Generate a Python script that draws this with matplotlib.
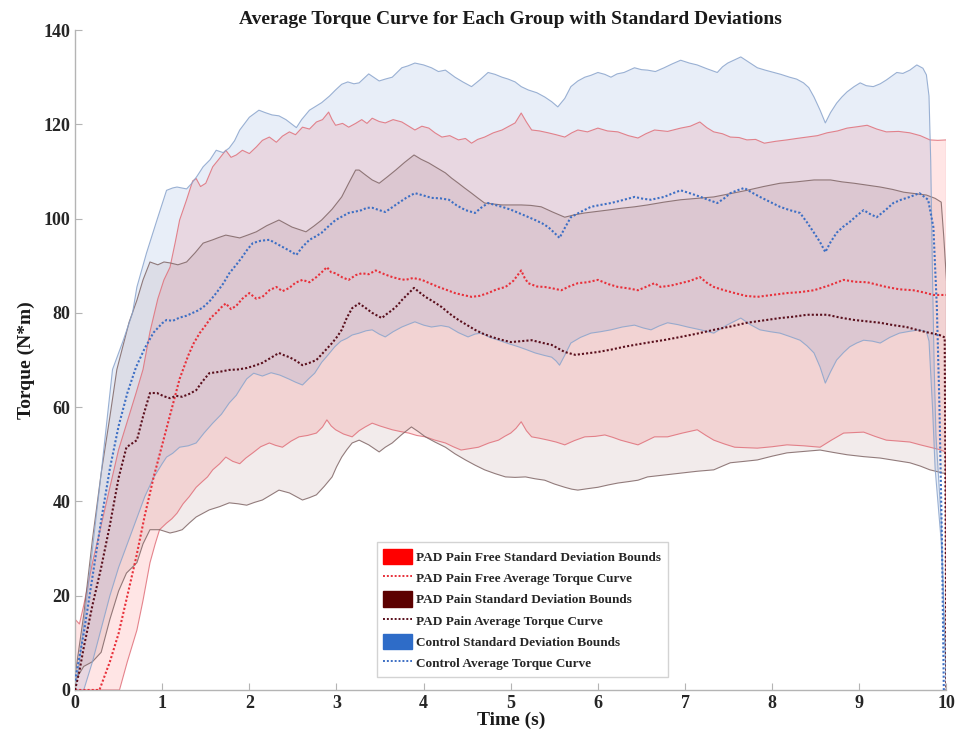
import matplotlib
matplotlib.use("Agg")
import matplotlib.pyplot as plt
import numpy as np
from matplotlib.patches import Patch
from matplotlib.lines import Line2D

plt.rcParams["font.family"] = ["Liberation Serif", "DejaVu Serif"]
plt.rcParams["font.weight"] = "bold"

# (time s, torque N*m) samples for each curve
free_upper = [(0, 15), (0.05, 14), (0.1, 18), (0.2, 27), (0.3, 35), (0.4, 43), (0.5, 51), (0.6, 57), (0.7, 63),
              (0.78, 68), (0.86, 76), (0.95, 83), (1.02, 87), (1.09, 89.7), (1.15, 95), (1.2, 99.7), (1.28, 104),
              (1.35, 108), (1.39, 108.5), (1.44, 106.8), (1.5, 107.5), (1.58, 111), (1.65, 112.6), (1.73, 114.5),
              (1.79, 113), (1.85, 113.5), (1.92, 114.5), (2.0, 113.8), (2.08, 115.2), (2.15, 116.6), (2.23, 117.3),
              (2.31, 116.2), (2.38, 117.5), (2.46, 118.4), (2.53, 117.8), (2.61, 119.4), (2.69, 119), (2.77, 120.5),
              (2.84, 121), (2.91, 122.6), (2.95, 121), (2.99, 119.8), (3.07, 120.2), (3.14, 119.4), (3.22, 120.2),
              (3.29, 121), (3.35, 120.2), (3.41, 121.3), (3.49, 120.6), (3.56, 120.3), (3.65, 121), (3.75, 120.5),
              (3.83, 119.6), (3.9, 118.8), (3.98, 119.6), (4.06, 119.2), (4.13, 118.2), (4.21, 117.3), (4.3, 117.6),
              (4.4, 116.7), (4.48, 117), (4.55, 116), (4.62, 116.8), (4.7, 117.3), (4.8, 118.2), (4.9, 118.8),
              (4.98, 119.6), (5.05, 120.3), (5.12, 122.4), (5.18, 120.5), (5.24, 118.8), (5.33, 118.6), (5.43, 118.2),
              (5.52, 117.8), (5.62, 117.3), (5.7, 118.2), (5.77, 118.8), (5.88, 118.4), (6.0, 119.2), (6.11, 118.6),
              (6.23, 118.4), (6.35, 117.6), (6.46, 117.1), (6.55, 118), (6.65, 118.8), (6.8, 118.5), (6.95, 119.2),
              (7.06, 119.6), (7.17, 120.5), (7.25, 119.3), (7.33, 118.4), (7.43, 118), (7.52, 117.3), (7.62, 117.2),
              (7.71, 116.7), (7.81, 116.8), (7.91, 116), (8.04, 116.4), (8.17, 116.7), (8.28, 117), (8.4, 117.3),
              (8.52, 117.6), (8.63, 118.2), (8.75, 118.6), (8.86, 119.2), (8.98, 119.5), (9.09, 119.8), (9.2, 119),
              (9.31, 118.4), (9.45, 118.5), (9.58, 118.2), (9.7, 117.6), (9.81, 116.7), (9.9, 116.6), (10.0, 116.7)]
free_lower = [(0, 0), (0.46, 0), (0.51, 0), (0.6, 6), (0.71, 12.7), (0.78, 19), (0.86, 27), (0.92, 31), (0.97, 34),
              (1.05, 35.4), (1.11, 36.3), (1.17, 37.5), (1.24, 39.5), (1.31, 41), (1.39, 43), (1.46, 44.2), (1.52, 45.2),
              (1.58, 46.7), (1.66, 48), (1.73, 49.4), (1.81, 48.5), (1.89, 48), (1.96, 49.2), (2.04, 50.3), (2.13, 51.6),
              (2.23, 52.4), (2.3, 51.9), (2.38, 51.5), (2.48, 52.8), (2.57, 53.7), (2.67, 54), (2.77, 54.5), (2.84, 55.8),
              (2.89, 57.3), (2.94, 56), (2.99, 55.2), (3.08, 54.3), (3.18, 53.7), (3.26, 55), (3.33, 55.8), (3.41, 56.6),
              (3.5, 56), (3.64, 55.2), (3.74, 54.8), (3.83, 54.5), (3.92, 54), (4.02, 53.7), (4.13, 53), (4.25, 52.4),
              (4.34, 51.6), (4.43, 50.9), (4.53, 51.2), (4.63, 51.5), (4.75, 52.4), (4.86, 53), (4.93, 53.8), (5.0, 54.5),
              (5.06, 55.5), (5.12, 56.9), (5.18, 55), (5.24, 53.7), (5.33, 53.4), (5.43, 53), (5.52, 52.6), (5.62, 52),
              (5.73, 52.9), (5.85, 53.7), (5.97, 53.8), (6.08, 54.1), (6.17, 53.6), (6.26, 53), (6.36, 52.5), (6.46, 52),
              (6.55, 52.8), (6.65, 53.7), (6.8, 53.7), (6.97, 54.5), (7.14, 55.2), (7.24, 54), (7.33, 53), (7.45, 52.2),
              (7.57, 51.5), (7.7, 51.4), (7.83, 51.3), (8.0, 51.6), (8.17, 52), (8.36, 51.8), (8.55, 51.5), (8.68, 53),
              (8.82, 54.5), (8.93, 54.6), (9.05, 54.7), (9.18, 53.8), (9.31, 53), (9.45, 52.8), (9.58, 52.6), (9.7, 52),
              (9.81, 51.5), (9.92, 51), (9.99, 50.5), (10.0, 0)]
free_mean = [(0, 0), (0.28, 0), (0.4, 6), (0.5, 12), (0.6, 20), (0.7, 28), (0.8, 37), (0.9, 45), (1.0, 52), (1.1, 59),
             (1.2, 66), (1.3, 71), (1.36, 73.5), (1.43, 75.7), (1.5, 77.4), (1.56, 79), (1.62, 80), (1.68, 81.2),
             (1.73, 82), (1.79, 80.8), (1.85, 81.5), (1.92, 83), (2.0, 84.2), (2.08, 83), (2.15, 83.4), (2.23, 84.8),
             (2.31, 85.5), (2.38, 84.6), (2.46, 85.3), (2.53, 86.4), (2.61, 87), (2.69, 86.5), (2.77, 87.6), (2.83, 88.6),
             (2.89, 89.7), (2.94, 88.6), (2.99, 88.4), (3.07, 87.5), (3.14, 87), (3.22, 88), (3.29, 88.4), (3.37, 88.2),
             (3.45, 89), (3.55, 88.2), (3.64, 87.6), (3.72, 87.2), (3.79, 87), (3.88, 87.4), (3.98, 87), (4.08, 86.2),
             (4.17, 85.5), (4.26, 84.9), (4.36, 84.2), (4.45, 83.8), (4.55, 83.4), (4.64, 83.6), (4.74, 84.2), (4.84, 85),
             (4.94, 85.5), (5.03, 86.8), (5.12, 89), (5.16, 87.4), (5.2, 86.3), (5.3, 85.6), (5.39, 85.5), (5.48, 85.2),
             (5.58, 84.8), (5.67, 85.6), (5.77, 86.3), (5.88, 86.5), (6.0, 87), (6.12, 86.1), (6.23, 85.5), (6.35, 85.2),
             (6.46, 84.8), (6.55, 85.5), (6.65, 86.3), (6.72, 85.5), (6.84, 85.8), (6.95, 86.3), (7.06, 86.8),
             (7.17, 87.6), (7.25, 86.4), (7.33, 85.5), (7.45, 84.8), (7.57, 84.2), (7.7, 83.6), (7.83, 83.4), (8.0, 83.8),
             (8.17, 84.2), (8.32, 84.4), (8.48, 84.8), (8.65, 85.8), (8.82, 87), (8.95, 86.6), (9.09, 86.5), (9.2, 86),
             (9.31, 85.5), (9.46, 85), (9.62, 84.8), (9.75, 84.3), (9.85, 83.8), (10.0, 83.8)]

pain_upper = [(0, 3), (0.1, 16), (0.2, 32), (0.3, 46), (0.4, 58), (0.48, 68), (0.55, 73), (0.62, 78), (0.71, 82.7),
              (0.78, 87), (0.86, 90.8), (0.95, 90.2), (1.02, 90.8), (1.09, 90.6), (1.18, 90.2), (1.28, 90.8),
              (1.38, 92.8), (1.47, 94.8), (1.58, 95.5), (1.65, 96), (1.73, 96.5), (1.81, 96.2), (1.89, 95.9),
              (1.98, 96.5), (2.08, 97.2), (2.2, 98.5), (2.34, 99.7), (2.41, 99), (2.49, 98.2), (2.57, 97.7),
              (2.65, 97.2), (2.74, 98.4), (2.83, 99.7), (2.95, 102), (3.06, 104.6), (3.14, 107.5), (3.22, 110.3),
              (3.26, 110.3), (3.33, 109.3), (3.41, 108.2), (3.49, 107.5), (3.58, 108.8), (3.68, 110.3), (3.78, 111.9),
              (3.89, 113.5), (3.97, 112.6), (4.06, 111.8), (4.15, 110.8), (4.25, 109.7), (4.32, 108.6), (4.4, 107.5),
              (4.47, 106.5), (4.55, 105.4), (4.62, 104.4), (4.7, 103.3), (4.8, 103.1), (4.9, 102.9), (5.01, 102.9),
              (5.12, 102.9), (5.23, 102.8), (5.35, 102.5), (5.48, 101.4), (5.62, 100.3), (5.73, 100.8), (5.85, 101.2),
              (5.98, 101.5), (6.11, 101.8), (6.27, 102.2), (6.42, 102.5), (6.57, 102.9), (6.76, 103.5), (6.95, 104),
              (7.14, 104.3), (7.33, 104.6), (7.52, 105.3), (7.71, 106), (7.9, 106.8), (8.09, 107.5), (8.28, 107.8),
              (8.48, 108.2), (8.67, 108.2), (8.8, 107.8), (8.94, 107.5), (9.09, 107.1), (9.24, 106.7), (9.38, 106.2),
              (9.51, 105.6), (9.64, 105.3), (9.77, 105), (9.87, 104.3), (9.94, 103.5), (9.97, 96), (10.0, 87)]
pain_lower = [(0, 2), (0.1, 5), (0.2, 6), (0.3, 8), (0.4, 15), (0.5, 21), (0.59, 24.8), (0.71, 27), (0.78, 31),
              (0.86, 34), (0.97, 34), (1.09, 33.3), (1.16, 33.6), (1.23, 34), (1.31, 35.4), (1.39, 36.7), (1.46, 37.4),
              (1.54, 38.2), (1.66, 38.9), (1.77, 39.7), (1.87, 39.5), (1.97, 39.2), (2.06, 39.8), (2.15, 40.3),
              (2.25, 41.4), (2.34, 42.4), (2.4, 42.1), (2.46, 41.8), (2.54, 41), (2.61, 40.3), (2.69, 40.8),
              (2.77, 41.4), (2.86, 43.2), (2.95, 45.2), (3.0, 47.3), (3.06, 49.4), (3.12, 51), (3.18, 52.4), (3.26, 53),
              (3.37, 52), (3.49, 50.5), (3.56, 51.5), (3.64, 52.4), (3.75, 54.2), (3.86, 55.8), (3.94, 54.8),
              (4.02, 53.7), (4.13, 52.6), (4.25, 51.5), (4.36, 50.1), (4.48, 48.8), (4.59, 47.7), (4.7, 46.7),
              (4.82, 45.9), (4.94, 45.2), (5.05, 45.1), (5.17, 45.2), (5.28, 44.8), (5.39, 44.5), (5.5, 43.7),
              (5.62, 43), (5.7, 42.6), (5.77, 42.4), (5.88, 42.7), (6.0, 43), (6.12, 43.5), (6.23, 43.9), (6.35, 44.2),
              (6.46, 44.5), (6.57, 45.2), (6.76, 45.6), (6.95, 46), (7.14, 46.4), (7.33, 46.7), (7.43, 47.5),
              (7.52, 48.2), (7.68, 48.5), (7.83, 48.8), (8.0, 49.6), (8.17, 50.3), (8.36, 50.6), (8.55, 50.9),
              (8.7, 50.4), (8.86, 49.9), (9.05, 49.5), (9.24, 49.2), (9.41, 48.7), (9.58, 48.2), (9.7, 47.5),
              (9.81, 46.7), (9.9, 46.3), (9.96, 46), (10.0, 46)]
pain_mean = [(0, 0), (0.05, 4), (0.1, 9), (0.2, 18), (0.3, 26), (0.4, 35), (0.5, 45), (0.59, 51.5), (0.71, 53),
             (0.78, 58), (0.86, 63), (0.94, 63), (1.02, 62.3), (1.09, 61.9), (1.16, 62.4), (1.23, 62.2), (1.31, 62.8),
             (1.39, 63.6), (1.46, 65.4), (1.54, 67.2), (1.66, 67.5), (1.77, 67.9), (1.87, 68), (1.97, 68.3),
             (2.06, 68.8), (2.15, 69.4), (2.25, 70.5), (2.34, 71.5), (2.4, 71), (2.46, 70.6), (2.54, 69.8), (2.61, 68.9),
             (2.69, 69.4), (2.77, 70), (2.86, 71.8), (2.95, 73.6), (3.01, 75), (3.06, 76.4), (3.12, 79), (3.18, 81),
             (3.26, 82), (3.33, 81.1), (3.41, 80), (3.47, 79.4), (3.52, 78.9), (3.58, 79.8), (3.64, 80.6), (3.7, 81.6),
             (3.75, 82.7), (3.82, 84), (3.89, 85.3), (3.95, 84.4), (4.02, 83.4), (4.12, 82.3), (4.21, 81.2),
             (4.3, 79.8), (4.4, 78.5), (4.5, 77.4), (4.59, 76.4), (4.68, 75.6), (4.78, 74.9), (4.89, 74.3), (5.0, 73.8),
             (5.12, 74), (5.24, 74.2), (5.35, 73.7), (5.47, 73.2), (5.55, 72.4), (5.62, 71.7), (5.68, 71.4),
             (5.74, 71.1), (5.87, 71.4), (6.0, 71.7), (6.15, 72.2), (6.3, 72.8), (6.45, 73.3), (6.61, 73.8),
             (6.78, 74.3), (6.95, 74.9), (7.14, 75.6), (7.33, 76.4), (7.52, 77.1), (7.71, 77.9), (7.9, 78.4),
             (8.09, 78.9), (8.25, 79.2), (8.4, 79.6), (8.52, 79.6), (8.63, 79.6), (8.78, 79), (8.94, 78.5), (9.09, 78.2),
             (9.24, 77.9), (9.39, 77.4), (9.54, 77), (9.66, 76.4), (9.77, 75.9), (9.85, 75.6), (9.92, 75.3),
             (9.98, 74.8), (10.0, 0)]

ctrl_upper = [(0, 0), (0.05, 6), (0.1, 14), (0.2, 30), (0.3, 46), (0.43, 68), (0.55, 74), (0.66, 80), (0.71, 85.5),
              (0.82, 92.7), (0.94, 99.7), (1.05, 106), (1.12, 106.5), (1.17, 106.7), (1.28, 106.3), (1.34, 107.5),
              (1.4, 109), (1.47, 111), (1.55, 112.5), (1.62, 114.5), (1.7, 114), (1.77, 115), (1.83, 116.5),
              (1.89, 118.8), (2.0, 121.5), (2.11, 123), (2.18, 122.5), (2.26, 122), (2.34, 121.8), (2.42, 121),
              (2.54, 119.3), (2.6, 121), (2.69, 123), (2.76, 123.8), (2.83, 124.6), (2.92, 126), (2.99, 127.3),
              (3.06, 128.5), (3.13, 129), (3.2, 128.6), (3.26, 128.8), (3.37, 130.7), (3.49, 129.2), (3.56, 129.6),
              (3.64, 130), (3.75, 132), (3.82, 132.4), (3.9, 133), (4.0, 132.6), (4.09, 132), (4.17, 131.2),
              (4.25, 131.5), (4.36, 130), (4.45, 129), (4.55, 128), (4.65, 129.5), (4.74, 131), (4.82, 130.6),
              (4.9, 130), (4.97, 129.6), (5.05, 129), (5.12, 128), (5.2, 127.3), (5.3, 126.7), (5.39, 125.8),
              (5.47, 124.8), (5.54, 123.7), (5.62, 125.5), (5.69, 128), (5.77, 129.2), (5.85, 130), (5.92, 130.4),
              (6.0, 131), (6.08, 130.6), (6.15, 130), (6.22, 130.7), (6.3, 131), (6.42, 132), (6.5, 131.6),
              (6.57, 131.5), (6.66, 131.2), (6.76, 132), (6.85, 132.8), (6.95, 133.6), (7.05, 133), (7.14, 132.6),
              (7.25, 131.8), (7.37, 131), (7.43, 132.2), (7.49, 133), (7.56, 133.6), (7.64, 134.3), (7.73, 133.2),
              (7.83, 132), (7.92, 131.5), (8.02, 131), (8.1, 130.6), (8.2, 130), (8.28, 129.6), (8.36, 128.8),
              (8.42, 127.8), (8.48, 125.8), (8.55, 123), (8.61, 120.3), (8.67, 122.5), (8.74, 124.5), (8.8, 125.8),
              (8.86, 126.9), (8.94, 128), (9.01, 128.8), (9.08, 128.2), (9.16, 128), (9.24, 128.6), (9.31, 129.4),
              (9.37, 130.2), (9.43, 131), (9.5, 130.8), (9.58, 131.5), (9.66, 132.6), (9.73, 131.9), (9.77, 130.5),
              (9.8, 126), (9.82, 112), (9.84, 88), (9.86, 68), (9.88, 54), (9.94, 36), (10.0, 0)]
ctrl_lower = [(0, 0), (0.1, 0), (0.2, 6), (0.3, 13), (0.4, 20), (0.5, 26), (0.6, 31), (0.7, 36), (0.8, 41), (0.9, 45),
              (1.0, 48), (1.05, 49.4), (1.12, 50.2), (1.2, 51.5), (1.3, 51.8), (1.39, 52.4), (1.48, 54.5), (1.58, 56.6),
              (1.68, 58.5), (1.77, 60.9), (1.85, 62.5), (1.9, 64), (1.97, 66), (2.05, 67.2), (2.15, 66.6), (2.25, 67.3),
              (2.35, 66.8), (2.45, 66), (2.53, 65.3), (2.61, 64.7), (2.68, 66), (2.75, 67.2), (2.83, 69.5), (2.9, 71),
              (2.98, 72.8), (3.05, 74), (3.12, 74.6), (3.18, 75.3), (3.26, 75.7), (3.34, 76.2), (3.41, 76.4),
              (3.49, 75.5), (3.56, 74.9), (3.65, 76), (3.75, 77), (3.83, 77.6), (3.9, 78.1), (4.0, 77.4), (4.09, 77),
              (4.2, 77.3), (4.29, 77), (4.4, 75.8), (4.51, 74.9), (4.59, 75.5), (4.66, 75.7), (4.76, 74.8), (4.86, 74.2),
              (4.97, 73.5), (5.09, 72.8), (5.18, 72.2), (5.28, 71.5), (5.38, 71), (5.47, 70.6), (5.52, 69.8),
              (5.56, 68.9), (5.62, 71), (5.69, 73.6), (5.8, 74.8), (5.92, 75.7), (6.03, 76), (6.15, 76.4), (6.28, 77),
              (6.42, 77.4), (6.52, 76.8), (6.61, 76.4), (6.7, 77.2), (6.8, 77.9), (6.92, 77.5), (7.03, 77),
              (7.18, 76.4), (7.33, 75.7), (7.48, 77.4), (7.64, 78.9), (7.75, 77.5), (7.86, 76.4), (7.98, 76),
              (8.09, 75.7), (8.2, 75), (8.32, 74.2), (8.4, 73), (8.48, 71.5), (8.55, 68.5), (8.61, 65.1), (8.67, 67.5),
              (8.74, 70), (8.82, 71.6), (8.89, 72.8), (8.97, 73.6), (9.05, 74.2), (9.15, 74), (9.24, 73.6),
              (9.35, 74.8), (9.46, 75.7), (9.58, 76.1), (9.69, 76.4), (9.77, 76), (9.8, 74), (9.84, 60), (9.87, 47),
              (9.94, 31.5), (10.0, 0)]
ctrl_mean = [(0, 2), (0.1, 12), (0.2, 24), (0.3, 36), (0.4, 47), (0.5, 56), (0.6, 63), (0.7, 68.5), (0.8, 72.5),
             (0.9, 75.8), (1.0, 77.8), (1.05, 78.5), (1.12, 78.3), (1.2, 79), (1.28, 79.4), (1.35, 80), (1.41, 80.5),
             (1.47, 81.2), (1.55, 82.6), (1.62, 84.2), (1.7, 86.2), (1.77, 88.4), (1.85, 90.2), (1.92, 91.9),
             (1.98, 93.5), (2.04, 94.8), (2.13, 95.3), (2.23, 95.5), (2.3, 94.8), (2.38, 94), (2.46, 93.2),
             (2.54, 92.3), (2.61, 94), (2.69, 95.5), (2.76, 96.2), (2.83, 97), (2.91, 98.4), (2.99, 99.7),
             (3.07, 100.5), (3.14, 101.2), (3.22, 101.5), (3.29, 101.8), (3.35, 102.3), (3.41, 102.3), (3.49, 101.8),
             (3.56, 101.4), (3.64, 102.4), (3.71, 103.3), (3.8, 104.4), (3.9, 105.4), (4.0, 104.9), (4.09, 104.4),
             (4.19, 104.3), (4.29, 104), (4.38, 102.8), (4.48, 101.8), (4.59, 101.2), (4.66, 102.3), (4.74, 103.3),
             (4.82, 102.9), (4.9, 102.5), (5.0, 101.9), (5.09, 101.2), (5.18, 100.5), (5.28, 99.7), (5.36, 99),
             (5.43, 98.2), (5.5, 97), (5.56, 95.9), (5.62, 98), (5.69, 100.3), (5.8, 101.4), (5.92, 102.5),
             (6.03, 102.9), (6.15, 103.3), (6.28, 103.9), (6.42, 104.6), (6.52, 104.2), (6.61, 104), (6.68, 104.3),
             (6.76, 104.6), (6.85, 105.3), (6.95, 106), (7.07, 105.3), (7.18, 104.6), (7.28, 103.9), (7.37, 103.3),
             (7.45, 104.3), (7.52, 105.4), (7.6, 106), (7.68, 106.5), (7.77, 105.5), (7.86, 104.6), (7.98, 103.5),
             (8.09, 102.5), (8.2, 101.8), (8.32, 101.2), (8.4, 99.2), (8.48, 97), (8.55, 95), (8.61, 92.9),
             (8.67, 95), (8.74, 97), (8.81, 98.2), (8.89, 99.3), (8.97, 100.6), (9.05, 101.8), (9.12, 101),
             (9.2, 100.3), (9.3, 101.8), (9.39, 103.3), (9.48, 104), (9.58, 104.6), (9.69, 105.4), (9.79, 104),
             (9.85, 98.2), (9.89, 81.2), (9.92, 60), (9.95, 30), (9.97, 0)]

groups = [
    ("PAD Pain Free", free_upper, free_lower, free_mean, "#ff0000", "#e0707a", "#e8303a", 0.10),
    ("PAD Pain", pain_upper, pain_lower, pain_mean, "#5c0000", "#806666", "#5a0f1c", 0.08),
    ("Control", ctrl_upper, ctrl_lower, ctrl_mean, "#2e6cc8", "#8aa4cc", "#3d6fc4", 0.11),
]

fig = plt.figure(figsize=(9.56, 7.33), dpi=100)
ax = fig.add_axes([0.0785, 0.0587, 0.9115, 0.9003])

handles = []
for name, upper, lower, mean, face, edge, line, alpha in groups:
    tu, vu = np.array(upper).T
    tl, vl = np.array(lower).T
    tm, vm = np.array(mean).T
    ax.fill(np.concatenate([tu, tl[::-1]]), np.concatenate([vu, vl[::-1]]),
            facecolor=face, alpha=alpha, edgecolor="none", zorder=1)
    ax.plot(tu, vu, color=edge, lw=0.8, alpha=0.85, zorder=2)
    ax.plot(tl, vl, color=edge, lw=0.8, alpha=0.85, zorder=2)
    ax.plot([tu[-1], tl[-1]], [vu[-1], vl[-1]], color=edge, lw=0.8, zorder=2)
    ax.plot(tm, vm, color=line, lw=1.5, ls=(0, (1, 1)), zorder=3)
    handles.append(Patch(facecolor=face, edgecolor=face, label=f"{name} Standard Deviation Bounds"))
    handles.append(Line2D([], [], color=line, lw=1.4, ls=(0, (1, 1)), label=f"{name} Average Torque Curve"))

ax.set_xlim(0, 10)
ax.set_ylim(0, 140)
ax.set_xticks(range(0, 11))
ax.set_yticks(range(0, 141, 20))
for s in ["top", "right"]:
    ax.spines[s].set_visible(False)
for s in ["left", "bottom"]:
    ax.spines[s].set_color("#b4b4b4")
    ax.spines[s].set_linewidth(1.0)
ax.tick_params(direction="in", length=5, color="#b4b4b4", labelsize=13, labelcolor="#262626")
for lab in ax.get_xticklabels() + ax.get_yticklabels():
    lab.set_fontweight("bold")

ax.set_title("Average Torque Curve for Each Group with Standard Deviations",
             fontsize=14, fontweight="bold", color="#1a1a1a", pad=4)
ax.set_xlabel("Time (s)", fontsize=14, fontweight="bold", color="#1a1a1a", labelpad=0)
ax.set_ylabel("Torque (N*m)", fontsize=14, fontweight="bold", color="#1a1a1a", labelpad=6)

leg = ax.legend(handles=handles, loc="lower left", bbox_to_anchor=(0.346, 0.02), borderaxespad=0,
                fontsize=9.5, frameon=True, fancybox=False, handlelength=2.2, handleheight=1.4,
                labelspacing=0.45, handletextpad=0.3, borderpad=0.5)
leg.get_frame().set_edgecolor("#c8c8c8")
leg.get_frame().set_linewidth(1.0)
for txt in leg.get_texts():
    txt.set_fontweight("bold")
    txt.set_color("#262626")

fig.savefig("out.png", dpi=100)
